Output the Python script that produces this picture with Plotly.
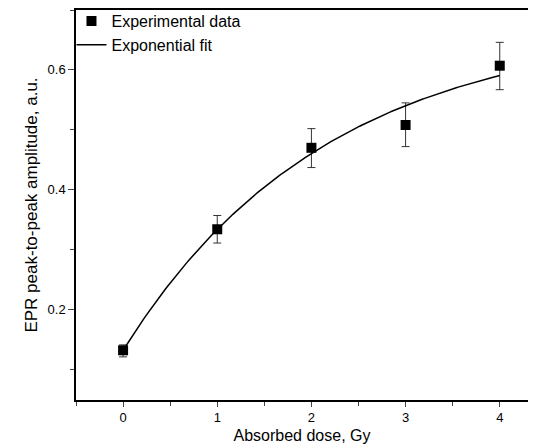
import numpy as np
import plotly.graph_objects as go

dose = [0, 1, 2, 3, 4]
amp = [0.132, 0.334, 0.470, 0.508, 0.607]
err_plus = [0.009, 0.023, 0.032, 0.037, 0.039]
err_minus = [0.011, 0.023, 0.033, 0.036, 0.040]
# exponential fit parameters y = A - B*exp(-x/t)
fit_A, fit_B, fit_t = 0.676, 0.544, 2.16

xf = np.linspace(0, 4, 200)
yf = fit_A - fit_B * np.exp(-xf / fit_t)

fig = go.Figure()
fig.add_trace(go.Scatter(x=dose, y=amp, mode="markers", name="Experimental data",
    marker=dict(symbol="square", size=10, color="black"),
    error_y=dict(type="data", array=err_plus, arrayminus=err_minus, color="#333", thickness=1, width=4)))
fig.add_trace(go.Scatter(x=xf, y=yf, mode="lines", name="Exponential fit",
    line=dict(color="black", width=1.5)))

fig.update_layout(width=520, height=436, margin=dict(l=68, r=0, t=2, b=44, autoexpand=False),
    paper_bgcolor="white", plot_bgcolor="white",
    font=dict(family="Liberation Sans, Arial", size=13, color="black"),
    showlegend=True,
    legend=dict(x=-0.01, y=1.015, xanchor="left", yanchor="top", bgcolor="rgba(0,0,0,0)",
                font=dict(size=16), tracegroupgap=0))
fig.update_xaxes(range=[-0.5, 4.30], tickvals=[0, 1, 2, 3, 4], ticks="outside", ticklen=5,
    minor=dict(dtick=0.5, tick0=0, ticks="outside", ticklen=4), automargin=False,
    showline=True, linecolor="black", linewidth=1.5, mirror=True, showgrid=False, zeroline=False,
    title=dict(text="Absorbed dose, Gy", font=dict(size=16), standoff=6))
fig.update_yaxes(range=[0.049, 0.70], tickvals=[0.2, 0.4, 0.6], ticks="outside", ticklen=6,
    minor=dict(dtick=0.1, tick0=0, ticks="outside", ticklen=4), automargin=False,
    showline=True, linecolor="black", linewidth=1.5, mirror=False, showgrid=False, zeroline=False,
    title=dict(text="EPR peak-to-peak amplitude, a.u.", font=dict(size=17), standoff=6))
fig.write_html("out.html")
